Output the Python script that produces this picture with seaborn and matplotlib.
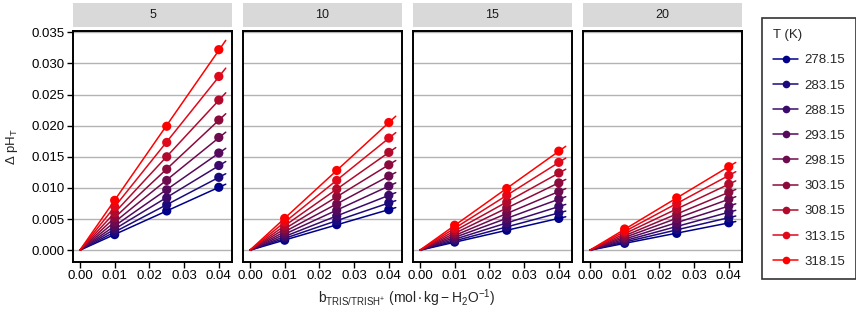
import numpy as np
import pandas as pd
import matplotlib
matplotlib.use("Agg")
import matplotlib.pyplot as plt
import seaborn as sns
from matplotlib.lines import Line2D

# data
salinity = [5, 10, 15, 20]
temps = ["278.15", "283.15", "288.15", "293.15", "298.15", "303.15", "308.15", "313.15", "318.15"]
b_tris = [0.01, 0.025, 0.04]

dph_s5 = [
    [0.0025, 0.0063, 0.0101],
    [0.0029, 0.0073, 0.0117],
    [0.0034, 0.0084, 0.0136],
    [0.0039, 0.0097, 0.0156],
    [0.0045, 0.0112, 0.0181],
    [0.0052, 0.0130, 0.0209],
    [0.0060, 0.0150, 0.0241],
    [0.0070, 0.0173, 0.0279],
    [0.0080, 0.0199, 0.0322],
]
dph_s10 = [
    [0.0016, 0.0041, 0.0065],
    [0.0019, 0.0047, 0.0076],
    [0.0022, 0.0055, 0.0088],
    [0.0026, 0.0064, 0.0103],
    [0.0030, 0.0074, 0.0119],
    [0.0034, 0.0086, 0.0137],
    [0.0039, 0.0098, 0.0157],
    [0.0045, 0.0112, 0.0180],
    [0.0051, 0.0128, 0.0205],
]
dph_s15 = [
    [0.0013, 0.0032, 0.0051],
    [0.0015, 0.0037, 0.0060],
    [0.0017, 0.0044, 0.0070],
    [0.0020, 0.0051, 0.0082],
    [0.0024, 0.0059, 0.0094],
    [0.0027, 0.0068, 0.0108],
    [0.0031, 0.0077, 0.0124],
    [0.0035, 0.0088, 0.0141],
    [0.0040, 0.0099, 0.0159],
]
dph_s20 = [
    [0.0011, 0.0027, 0.0044],
    [0.0013, 0.0033, 0.0052],
    [0.0015, 0.0038, 0.0061],
    [0.0018, 0.0044, 0.0071],
    [0.0020, 0.0051, 0.0082],
    [0.0023, 0.0058, 0.0093],
    [0.0027, 0.0066, 0.0106],
    [0.0030, 0.0075, 0.0120],
    [0.0034, 0.0084, 0.0134],
]

colors = ["#00008b", "#1c0a7c", "#3a0a6c", "#550a5c", "#6e0a4e",
          "#8c0a3c", "#b20a2c", "#e0081a", "#ff0000"]
palette = dict(zip(temps, colors))

rows = []
for s, block in zip(salinity, [dph_s5, dph_s10, dph_s15, dph_s20]):
    for t, vals in zip(temps, block):
        for b, v in zip(b_tris, vals):
            rows.append({"S": s, "T": t, "b": b, "dph": v})
df = pd.DataFrame(rows)

# linear fit through the origin, drawn over the full range
fit_rows = []
fit_x = np.array([0.0, 0.042])
for (s, t), g in df.groupby(["S", "T"]):
    slope = (g["b"] * g["dph"]).sum() / (g["b"] ** 2).sum()
    for x in fit_x:
        fit_rows.append({"S": s, "T": t, "b": x, "dph": slope * x})
fit = pd.DataFrame(fit_rows)

sns.set_style("white")
plt.rcParams["font.family"] = ["Liberation Sans", "DejaVu Sans"]
plt.rcParams["mathtext.fontset"] = "custom"
plt.rcParams["mathtext.rm"] = "Liberation Sans"
plt.rcParams["mathtext.it"] = "Liberation Sans"

W, H = 856, 313
fig = plt.figure(figsize=(W / 100, H / 100), dpi=100)

for i, s in enumerate(salinity):
    left = 73 + i * 170
    ax = fig.add_axes([left / W, (H - 262) / H, 159 / W, 231 / H])
    sub_fit = fit[fit["S"] == s]
    sub = df[df["S"] == s]
    sns.lineplot(data=sub_fit, x="b", y="dph", hue="T", palette=palette,
                 hue_order=temps, lw=1.1, legend=False, ax=ax, zorder=3)
    sns.scatterplot(data=sub, x="b", y="dph", hue="T", palette=palette,
                    hue_order=temps, s=44, edgecolor="none", legend=False,
                    ax=ax, zorder=4)
    ax.set_xlim(-0.002, 0.0438)
    ax.set_ylim(-0.0019, 0.0352)
    ax.set_xticks([0, 0.01, 0.02, 0.03, 0.04])
    ax.set_xticklabels(["0.00", "0.01", "0.02", "0.03", "0.04"])
    ax.set_yticks(np.arange(0, 0.0351, 0.005))
    ax.yaxis.grid(True, color="#b3b3b3", lw=1.0)
    ax.set_axisbelow(True)
    ax.set_xlabel("")
    ax.set_ylabel("")
    for sp in ax.spines.values():
        sp.set_color("black")
        sp.set_linewidth(1.4)
    ax.tick_params(axis="both", direction="out", length=4, width=1,
                   color="black", labelsize=9.5, labelcolor="black", pad=2,
                   bottom=True, left=True)
    if i == 0:
        ax.set_yticklabels([f"{v:.3f}" for v in np.arange(0, 0.0351, 0.005)])
    else:
        ax.set_yticklabels([])
        ax.tick_params(axis="y", length=0)

    strip = fig.add_axes([left / W, (H - 27) / H, 159 / W, 24 / H])
    strip.set_facecolor("#d9d9d9")
    strip.set_xticks([])
    strip.set_yticks([])
    for sp in strip.spines.values():
        sp.set_visible(False)
    strip.text(0.5, 0.5, str(s), ha="center", va="center", fontsize=9,
               color="#1a1a1a", transform=strip.transAxes)

fig.text(407 / W, 1 - 298 / H,
         r"$\mathregular{b_{TRIS/TRISH^{+}}\ (mol\cdot kg - H_2O^{-1})}$",
         ha="center", va="center", fontsize=10)
fig.text(12 / W, 1 - 146 / H, r"$\mathregular{\Delta\ pH_T}$", rotation=90,
         ha="center", va="center", fontsize=9.5)

handles = [Line2D([0], [0], color=c, lw=1.1, marker="o", markersize=5.5,
                  markeredgewidth=0) for c in colors]
leg = fig.legend(handles, temps, title="T (K)", loc="upper left",
                 bbox_to_anchor=(762 / W, 1 - 18 / H), frameon=True,
                 fancybox=False, edgecolor="black", fontsize=9.5,
                 title_fontsize=9.5, labelspacing=0.98, handlelength=1.9,
                 handletextpad=0.45, borderpad=0.85, alignment="left",
                 borderaxespad=0)
leg.get_frame().set_linewidth(1.2)

fig.savefig("out.png", dpi=100)
